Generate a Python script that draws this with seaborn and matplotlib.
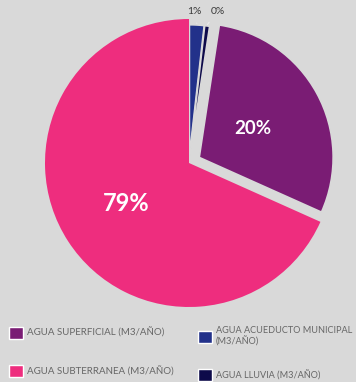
import numpy as np
import matplotlib
matplotlib.use("Agg")
import matplotlib.pyplot as plt
import seaborn as sns
from matplotlib.patches import Patch

# ---- data (clockwise from 12 o'clock) ----
categories = ["AGUA ACUEDUCTO MUNICIPAL\n(M3/AÑO)", "AGUA LLUVIA (M3/AÑO)",
              "AGUA SUPERFICIAL (M3/AÑO)", "AGUA SUBTERRANEA (M3/AÑO)"]
values = [1.8, 0.6, 29.3, 68.3]
pct_labels = ["1%", "0%", "20%", "79%"]
colors = ["#22318a", "#0d0a4a", "#7a1c74", "#ee2d7e"]
bg = "#d9d9d9"

sns.set_theme(style="white")
plt.rcParams["font.family"] = ["Lato", "DejaVu Sans"]

W, H = 356, 382
fig = plt.figure(figsize=(W / 100, H / 100), dpi=100, facecolor=bg)

cx, cy, R = 189, 163, 144
ax = fig.add_axes([(cx - R) / W, (H - cy - R) / H, 2 * R / W, 2 * R / H])
ax.set_facecolor(bg)

wedges, _ = ax.pie(values, startangle=90, counterclock=False,
                   explode=[0.05, 0.05, 0.081, 0.0], colors=colors,
                   wedgeprops=dict(linewidth=1.2, edgecolor=bg))
wedges[3].set_linewidth(0)
radii = [0.91, 0.91, 0.93, 1.0]
for w, r in zip(wedges, radii):
    w.set_radius(r)
    w.set_clip_on(False)
ax.set_xlim(-1, 1)
ax.set_ylim(-1, 1)
ax.set_aspect("equal")
ax.axis("off")

def mid(w):
    a = np.deg2rad((w.theta1 + w.theta2) / 2)
    return w.center, a

# big labels
for i, dist, fs in [(2, 0.42, 13.5), (3, 0.52, 17)]:
    (x0, y0), a = mid(wedges[i])
    ax.text(x0 + dist * np.cos(a), y0 + dist * np.sin(a), pct_labels[i],
            color="white", fontsize=fs, fontweight="bold",
            ha="center", va="center")

# small labels with leader lines
for i, tx in [(0, 0.04), (1, 0.20)]:
    (x0, y0), a = mid(wedges[i])
    ax.annotate(pct_labels[i], xy=(x0 + 0.92 * np.cos(a), y0 + 0.92 * np.sin(a)),
                xytext=(tx, 1.055), textcoords="data",
                ha="center", va="center", fontsize=7.5, color="#3a3a3a",
                annotation_clip=False,
                arrowprops=dict(arrowstyle="-", color="#eeeeee", lw=0.6,
                                shrinkA=3, shrinkB=0))

# legend: two single-column legends
h1 = [Patch(facecolor=colors[2]), Patch(facecolor=colors[3])]
l1 = [categories[2], categories[3]]
h2 = [Patch(facecolor=colors[0]), Patch(facecolor=colors[1])]
l2 = [categories[0], categories[1]]
common = dict(frameon=False, handletextpad=0.4, borderpad=0, borderaxespad=0,
              labelcolor="#666666")
leg1 = fig.legend(h1, l1, loc="upper left", bbox_to_anchor=(9 / W, 1 - 327 / H),
                  fontsize=7, handlelength=1.45, handleheight=1.45,
                  labelspacing=2.75, **common)
leg2 = fig.legend(h2, l2, loc="upper left", bbox_to_anchor=(198 / W, 1 - 326 / H),
                  fontsize=6.6, handlelength=1.55, handleheight=1.55,
                  labelspacing=2.45, **common)

fig.savefig("out.png", dpi=100, facecolor=bg)
